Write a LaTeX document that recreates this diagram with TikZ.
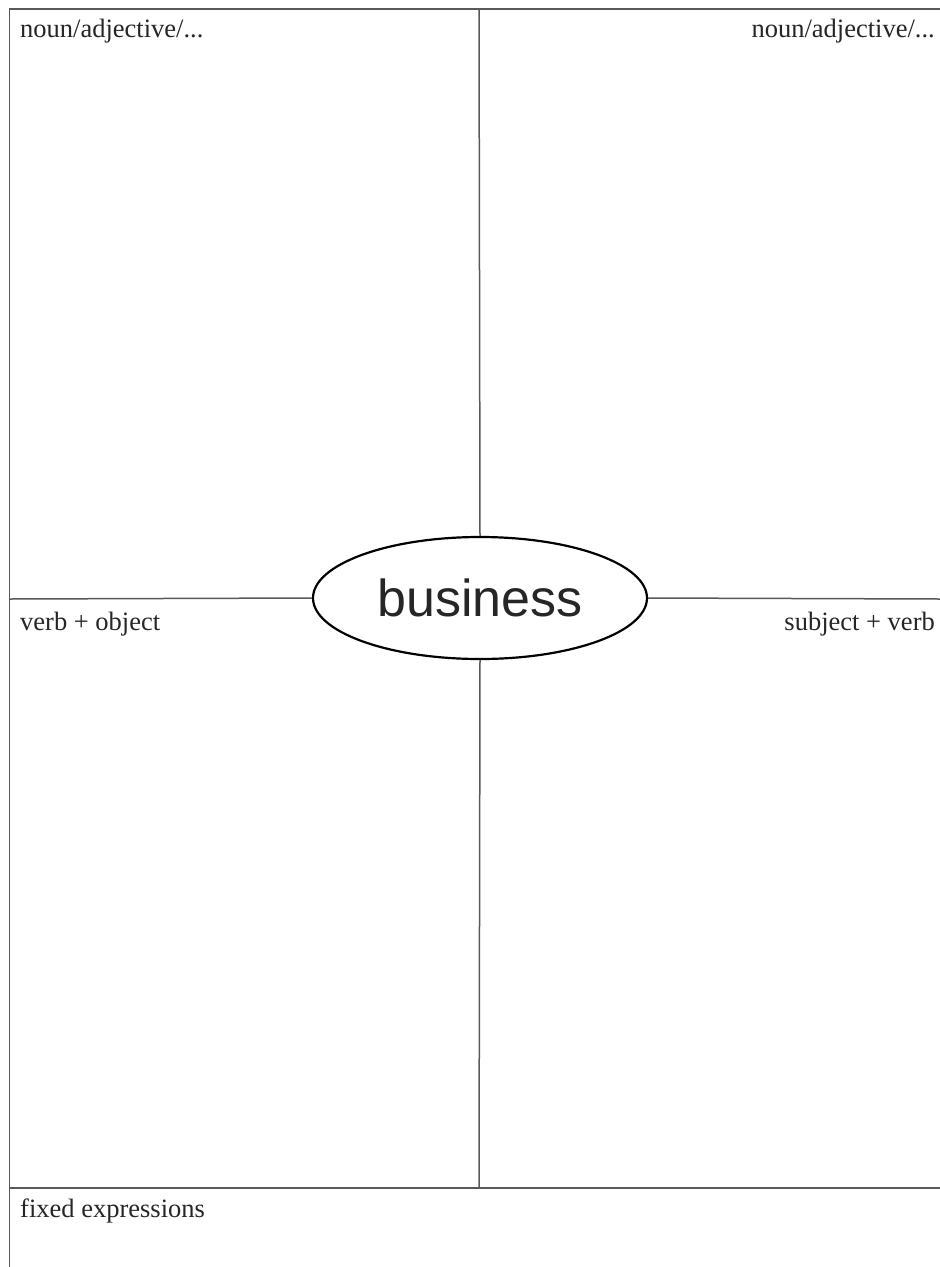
\documentclass[tikz,border=0pt]{standalone}
\usepackage{fontspec}
\setmainfont{Liberation Serif}
\newfontfamily\bizfont{Liberation Sans}
\usetikzlibrary{shapes.geometric}
\begin{document}
\begin{tikzpicture}[x=1pt,y=-1pt,
  frame/.style={draw=black!65,line width=1.5pt},
  lbl/.style={inner sep=0pt,text=black!85,font=\fontsize{26.5}{30}\selectfont},
  hub/.style={ellipse,draw=black,line width=2.2pt,minimum width=334pt,minimum height=122pt,inner sep=0pt,text=black!85,font=\bizfont\fontsize{52}{60}\selectfont}]
\useasboundingbox (0,0) rectangle (940,1267);
% frame coordinates
\coordinate (tl) at (9.5,9);
\coordinate (tr) at (940,9);
\coordinate (bl) at (9.5,1267);
\coordinate (vtop) at (479,9);
\coordinate (vbot) at (479,1188);
\coordinate (mleft) at (9.5,599);
\coordinate (mright) at (940,599);
\coordinate (fleft) at (9.5,1188);
\coordinate (fright) at (940,1188);
\node[hub] (biz) at (480,598) {business};
\draw[frame] (tr) -- (tl) -- (bl);
\draw[frame] (fleft) -- (fright);
\draw[frame] (vtop) -- (biz.north);
\draw[frame] (biz.south) -- (vbot);
\draw[frame] (mleft) -- (biz.west);
\draw[frame] (biz.east) -- (mright);
\node[lbl,anchor=base west] (nl) at (20,37) {noun/adjective/...};
\node[lbl,anchor=base east] (nr) at (935,37) {noun/adjective/...};
\node[lbl,anchor=base west] (vo) at (20,630) {verb + object};
\node[lbl,anchor=base east] (sv) at (935,630) {subject + verb};
\node[lbl,anchor=base west] (fx) at (20,1217) {fixed expressions};
\end{tikzpicture}
\end{document}
